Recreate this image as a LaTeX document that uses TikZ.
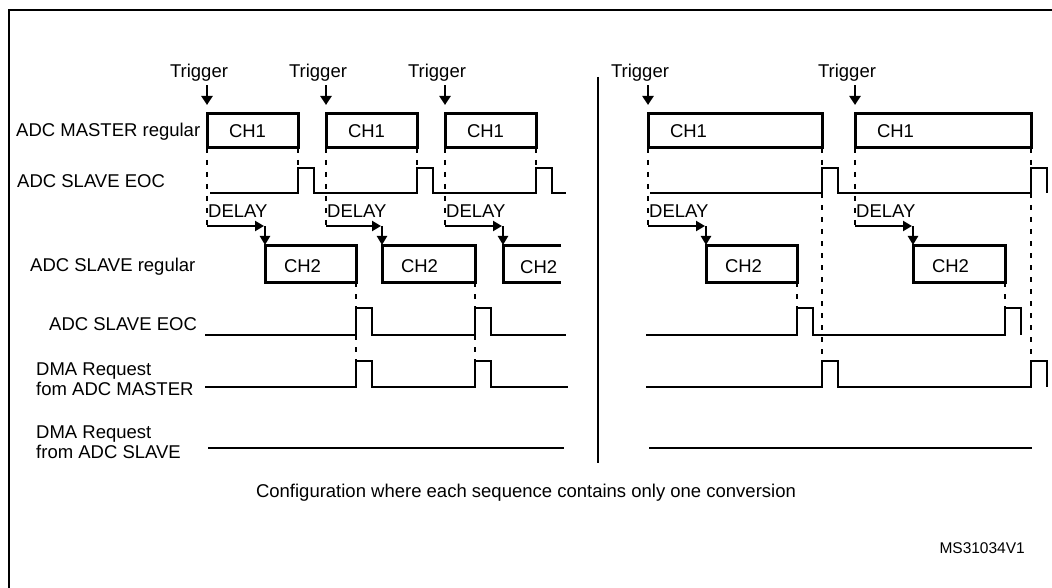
\documentclass[tikz,border=0pt]{standalone}
\usepackage{fontspec}
\setmainfont{Liberation Sans}
\usetikzlibrary{arrows.meta}
\newcommand\fsz{\fontsize{18.5}{20}\selectfont}
\begin{document}
\begin{tikzpicture}[x=1pt,y=-1pt,
  lbl/.style={font=\fsz, inner sep=0pt, anchor=base west},
  trg/.style={font=\fsz, inner sep=0pt, anchor=base},
  sig/.style={line width=2.3pt, line join=miter},
  dsh/.style={line width=2.3pt, dash pattern=on 5pt off 7pt},
  chbox/.style={draw, line width=3pt, anchor=north west, outer sep=0pt, inner ysep=0pt, align=left, font=\fsz, minimum height=#1},
  trig/.style={line width=2.3pt, -{Triangle[length=9pt,width=11pt]}},
  darr/.style={line width=2.3pt, -{Triangle[length=9pt,width=10pt]}},
  frame/.style={line width=2.3pt}]
\useasboundingbox (0,0) rectangle (1052,588);
% frame and separator
\draw[frame] (9,600) -- (9,10) -- (1070,10);
\coordinate (sepT) at (598,77);
\coordinate (sepB) at (598,463);
\draw[frame] (sepT) -- (sepB);

% row labels
\node[lbl] (lm)  at (16,137) {ADC MASTER regular};
\node[lbl] (le1) at (17,188) {ADC SLAVE EOC};
\node[lbl] (lsr) at (30,271) {ADC SLAVE regular};
\node[lbl] (le2) at (49,330) {ADC SLAVE EOC};
\node[lbl] (ldm1) at (36,375) {DMA Request};
\node[lbl] (ldm2) at (36,395) {fom ADC MASTER};
\node[lbl] (lds1) at (36,438) {DMA Request};
\node[lbl] (lds2) at (36,458) {from ADC SLAVE};

% CH1 boxes
\node[chbox=34pt, inner xsep=22pt, text width=47pt]  (m1) at (207,114) {CH1};
\node[chbox=34pt, inner xsep=22pt, text width=47pt]  (m2) at (326,114) {CH1};
\node[chbox=34pt, inner xsep=22pt, text width=47pt]  (m3) at (445,114) {CH1};
\node[chbox=34pt, inner xsep=22pt, text width=130pt] (m4) at (648,114) {CH1};
\node[chbox=34pt, inner xsep=22pt, text width=132pt] (m5) at (855,114) {CH1};

% CH2 boxes
\node[chbox=37pt, text height=19pt, inner xsep=19pt, text width=53pt] (s1) at (265,245) {CH2};
\node[chbox=37pt, text height=19pt, inner xsep=19pt, text width=55pt] (s2) at (382,245) {CH2};
\node[chbox=37pt, draw=none, minimum width=58pt] (s3) at (503,245) {};
\draw[line width=3pt] (s3.north east) -- (s3.north west) -- (s3.south west) -- (s3.south east);
\node[lbl] (s3t) at ([xshift=17pt,yshift=9pt]s3.south west) {CH2};
\node[chbox=37pt, text height=19pt, inner xsep=19pt, text width=53pt] (s4) at (706,245) {CH2};
\node[chbox=37pt, text height=19pt, inner xsep=19pt, text width=54pt] (s5) at (913,245) {CH2};

% triggers
\node[trg] (t1) at (199,78) {Trigger};
\node[trg] (t2) at (318,78) {Trigger};
\node[trg] (t3) at (437,78) {Trigger};
\node[trg] (t4) at (640,78) {Trigger};
\node[trg] (t5) at (847,78) {Trigger};
\foreach \t/\m in {t1/m1,t2/m2,t3/m3,t4/m4,t5/m5}
  \draw[trig, shorten <=3pt] (\t.south -| \m.north west) -- ([yshift=9pt]\m.north west);

% delay arrows
\foreach \i/\m/\s in {1/m1/s1,2/m2/s2,3/m3/s3,4/m4/s4,5/m5/s5}{
  \coordinate (d\i) at (\m.south west |- 0,226);
  \coordinate (c\i) at (\s.north west |- d\i);
  \draw[dsh] (\m.south west) -- (d\i);
  \draw[darr] (d\i) -- ([xshift=-1pt]c\i);
  \draw[darr] (c\i) -- (\s.north west);
  \node[lbl] (dl\i) at ([xshift=1pt,yshift=8pt]d\i) {DELAY};
}

% ADC MASTER EOC row (labelled ADC SLAVE EOC)
\draw[sig] (210,193) -- (298,193) -- (298,168) -- (314,168) -- (314,193) -- (417,193) -- (417,168) -- (433,168) -- (433,193)
  -- (536,193) -- (536,168) -- (552,168) -- (552,193) -- (566,193);
\draw[sig] (650,193) -- (822,193) -- (822,168) -- (838,168) -- (838,193) -- (1031,193) -- (1031,168) -- (1047,168) -- (1047,193);

% ADC SLAVE EOC row
\draw[sig] (205,335) -- (356,335) -- (356,308) -- (372,308) -- (372,335) -- (475,335) -- (475,308) -- (491,308) -- (491,335) -- (566,335);
\draw[sig] (646,335) -- (797,335) -- (797,308) -- (813,308) -- (813,335) -- (1005,335) -- (1005,308) -- (1021,308) -- (1021,335);

% DMA request from master
\draw[sig] (205,387) -- (356,387) -- (356,361) -- (372,361) -- (372,387) -- (475,387) -- (475,361) -- (491,361) -- (491,387) -- (568,387);
\draw[sig] (646,387) -- (822,387) -- (822,361) -- (838,361) -- (838,387) -- (1031,387) -- (1031,361) -- (1047,361) -- (1047,387);

% DMA request from slave
\draw[sig] (208,448) -- (564,448);
\draw[sig] (649,448) -- (1032,448);

% dashed guide lines
\draw[dsh] (m1.south east) -- (298,168);
\draw[dsh] (m2.south east) -- (417,168);
\draw[dsh] (m3.south east) -- (536,168);
\draw[dsh] (s1.south east) -- (356,308);
\draw[dsh] (356,335) -- (356,361);
\draw[dsh] (s2.south east) -- (475,308);
\draw[dsh] (475,335) -- (475,361);
\draw[dsh] (m4.south east) -- (822,168);
\draw[dsh] (822,193) -- (822,361);
\draw[dsh] (m5.south east) -- (1031,168);
\draw[dsh] (1031,193) -- (1031,361);
\draw[dsh] (s4.south east) -- (797,308);
\draw[dsh] (s5.south east) -- (1005,308);

% captions
\node[trg] (cap) at (526,497) {Configuration where each sequence contains only one conversion};
\node[font=\fontsize{15.5}{17}\selectfont, inner sep=0pt, anchor=base east] (ms) at (1025,553) {MS31034V1};
\end{tikzpicture}
\end{document}
